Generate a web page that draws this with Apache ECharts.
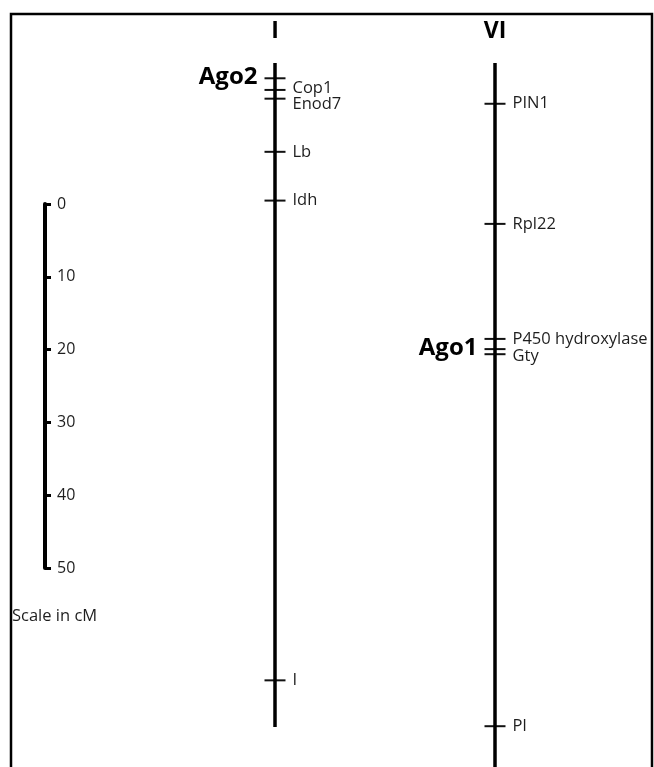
<!DOCTYPE html>
<html>
<head>
<meta charset="utf-8">
<script src="https://cdn.jsdelivr.net/npm/echarts@6/dist/echarts.min.js"></script>
<style>
html,body{margin:0;padding:0;background:#fff;}
#chart{width:654px;height:767px;}
</style>
</head>
<body>
<div id="chart"></div>
<script>
// ---- data (positions in cM from the top of each chromosome) ----
const chromosomes = ['I', 'VI'];
const chromLengths = [91.2, 100];
const chrINames = ['Ago2', 'Cop1', 'Enod7', 'Lb', 'Idh', 'I'];
const chrIPos = [2.1, 3.7, 4.9, 12.2, 18.9, 84.8];
const chrVINames = ['PIN1', 'Rpl22', 'P450 hydroxylase', 'Ago1', 'Gty', 'Pl'];
const chrVIPos = [5.6, 22.1, 37.9, 39.3, 40.0, 91.1];
const boldLeftLabels = ['Ago2', 'Ago1'];
const scaleTicks = [0, 10, 20, 30, 40, 50];
const scaleTitle = 'Scale in cM';

// ---- styling helpers ----
const FONT = '"Open Sans", sans-serif';
const labelShift = { 'Cop1': -2, 'Enod7': 6, 'Gty': 2 };

function markerData(chrom, names, pos) {
  return names.map((n, i) => {
    const left = boldLeftLabels.indexOf(n) >= 0;
    return {
      name: n,
      value: [chrom, pos[i]],
      label: left ? {
        show: true, position: 'left', distance: 7,
        formatter: '{b}', fontFamily: FONT, fontWeight: 'bold',
        fontSize: 24, color: '#000', offset: [0, -1]
      } : {
        show: true, position: 'right', distance: 7,
        formatter: '{b}', fontFamily: FONT, fontSize: 16.5, color: '#1e1e1e',
        offset: [0, labelShift[n] || 0]
      }
    };
  });
}

const chart = echarts.init(document.getElementById('chart'), null, { renderer: 'canvas' });
const cmMax = 704 / 7.28;

const option = {
  backgroundColor: '#fff',
  animation: false,
  title: {
    text: scaleTitle, left: 7, top: 603,
    textStyle: { fontFamily: FONT, fontSize: 16.5, fontWeight: 'normal', color: '#1e1e1e' }
  },
  grid: [
    { left: 165, width: 440, top: 63, bottom: 0 },
    { left: 45, width: 20, top: 204, height: 364 }
  ],
  xAxis: [
    {
      gridIndex: 0, type: 'category', data: chromosomes, position: 'top',
      boundaryGap: true,
      axisLine: { show: false }, axisTick: { show: false }, splitLine: { show: false },
      axisLabel: { margin: 20, fontFamily: FONT, fontWeight: 'bold', fontSize: 23, color: '#000' }
    },
    { gridIndex: 1, type: 'value', min: 0, max: 1, show: false }
  ],
  yAxis: [
    { gridIndex: 0, type: 'value', inverse: true, min: 0, max: cmMax, show: false },
    {
      gridIndex: 1, type: 'value', inverse: true, min: 0, max: 50, interval: 10,
      axisLine: { show: true, lineStyle: { color: '#000', width: 4 } },
      axisTick: { show: true, inside: true, length: 6, lineStyle: { color: '#000', width: 3 } },
      axisLabel: {
        inside: true, margin: 12, fontFamily: FONT, fontSize: 16, color: '#1e1e1e',
        formatter: v => (scaleTicks.indexOf(v) >= 0 ? String(v) : '')
      },
      splitLine: { show: false }
    }
  ],
  series: [
    {
      type: 'line', xAxisIndex: 0, yAxisIndex: 0, symbol: 'none', clip: true,
      lineStyle: { color: '#000', width: 3.5 },
      data: [[chromosomes[0], 0], [chromosomes[0], chromLengths[0]]]
    },
    {
      type: 'line', xAxisIndex: 0, yAxisIndex: 0, symbol: 'none', clip: true,
      lineStyle: { color: '#000', width: 3.5 },
      data: [[chromosomes[1], 0], [chromosomes[1], chromLengths[1]]]
    },
    {
      type: 'scatter', xAxisIndex: 0, yAxisIndex: 0,
      symbol: 'rect', symbolSize: [21, 2],
      itemStyle: { color: '#111', opacity: 1 },
      data: markerData(chromosomes[0], chrINames, chrIPos)
    },
    {
      type: 'scatter', xAxisIndex: 0, yAxisIndex: 0,
      symbol: 'rect', symbolSize: [21, 2],
      itemStyle: { color: '#111', opacity: 1 },
      data: markerData(chromosomes[1], chrVINames, chrVIPos)
    }
  ],
  graphic: [
    {
      type: 'polyline', silent: true, z: 100,
      shape: { points: [[11, 767], [11, 14], [652, 14], [652, 767]] },
      style: { stroke: '#000', lineWidth: 2.5, fill: null }
    }
  ]
};
chart.setOption(option);
</script>
</body>
</html>
